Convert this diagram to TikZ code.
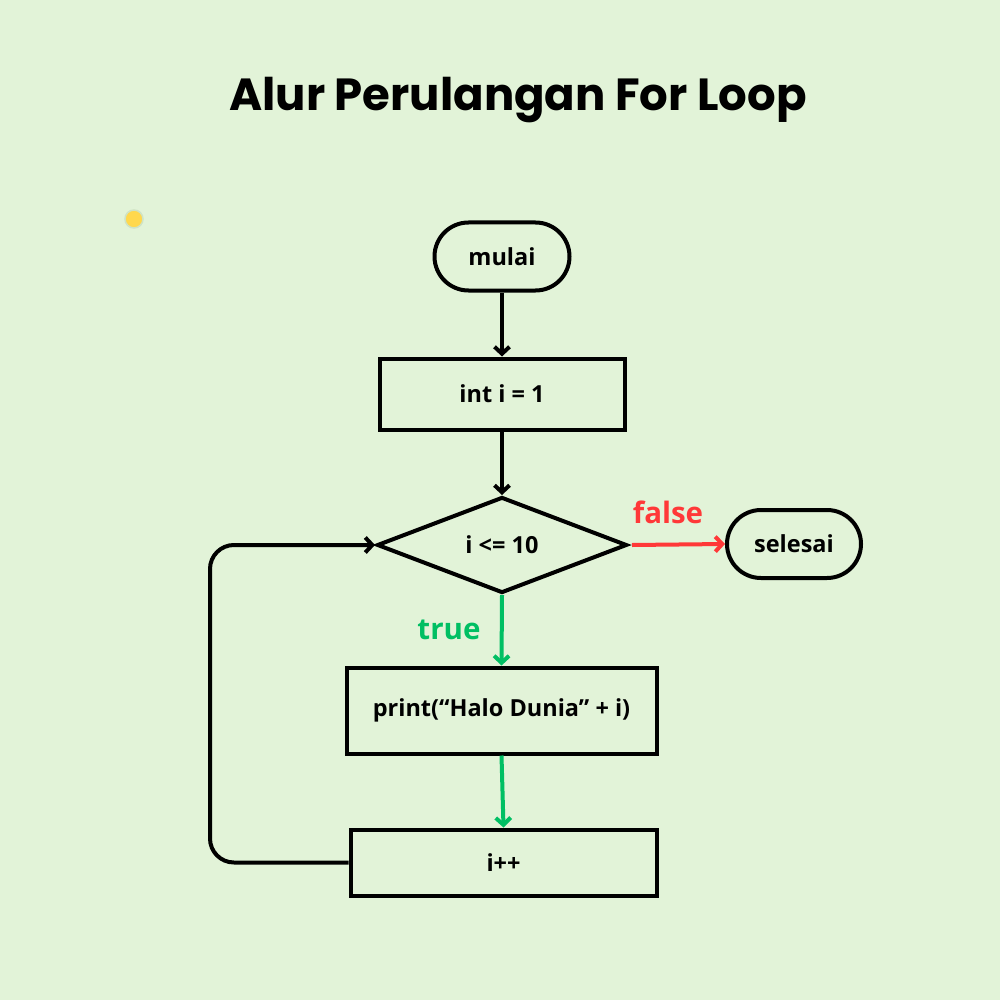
\documentclass[tikz,border=0pt]{standalone}
\usepackage{fontspec}
\setmainfont{Open Sans}
\newfontfamily\titlefont{Poppins}
\usetikzlibrary{arrows.meta,shapes.geometric,shapes.misc}
\definecolor{bg}{HTML}{E2F3D8}
\definecolor{redc}{HTML}{FF3838}
\definecolor{greenc}{HTML}{00BF63}
\definecolor{dotc}{HTML}{FFD84D}
\definecolor{ringc}{HTML}{CFE3C4}
\tikzset{
  line/.style={line width=4pt, -{Straight Barb[length=7pt,width=15pt,line width=4pt]}},
  lbl/.style={font=\fontsize{23.5}{28}\selectfont\bfseries},
  boxn/.style={draw, line width=4pt, rectangle, inner sep=0pt, lbl},
  term/.style={draw, line width=4pt, rounded rectangle, inner sep=0pt, lbl},
  cond label/.style={font=\fontsize{29.5}{34}\selectfont\bfseries},
}
\begin{document}
\begin{tikzpicture}[x=1pt,y=-1pt]
\fill[bg] (0,0) rectangle (1000,1000);
\useasboundingbox (0,0) rectangle (1000,1000);
\node[font=\titlefont\fontsize{45}{50}\selectfont\bfseries] (title) at (518,100) {Alur Perulangan For Loop};
\node[circle, fill=dotc, draw=ringc, line width=1.5pt, minimum size=18pt, inner sep=0pt] (dot) at (134,219) {};
\node[term, minimum width=135pt, minimum height=68pt] (mulai) at (502,256.5) {mulai};
\node[boxn, minimum width=245pt, minimum height=71pt] (init) at (502,394) {int i = 1};
\node[draw, line width=4pt, diamond, aspect=2.55, inner sep=0pt, minimum width=250pt, minimum height=96pt, lbl] (cond) at (502,545) {i <= 10};
\node[term, minimum width=134pt, minimum height=68pt] (selesai) at (794,544) {selesai};
\node[boxn, minimum width=310pt, minimum height=86pt] (print) at (501.5,710.5) {print(“Halo Dunia” + i)};
\node[boxn, minimum width=306pt, minimum height=66pt] (inc) at (503.5,862.5) {i++};
\draw[line] (mulai) -- (init);
\draw[line] (init) -- (cond.north);
\draw[line, redc] (cond.east) ++(3,0) coordinate (fs) -- (selesai.west);
\draw[line, greenc] (cond.south) -- (print.north);
\draw[line, greenc] (print.south) -- (inc.north);
\draw[line, rounded corners=24pt] (inc.west) -| (210,545) -- (cond.west);
\node[cond label, text=redc] (flbl) at (668,512) {false};
\node[cond label, text=greenc] (tlbl) at (449,630) {true};
\end{tikzpicture}
\end{document}
